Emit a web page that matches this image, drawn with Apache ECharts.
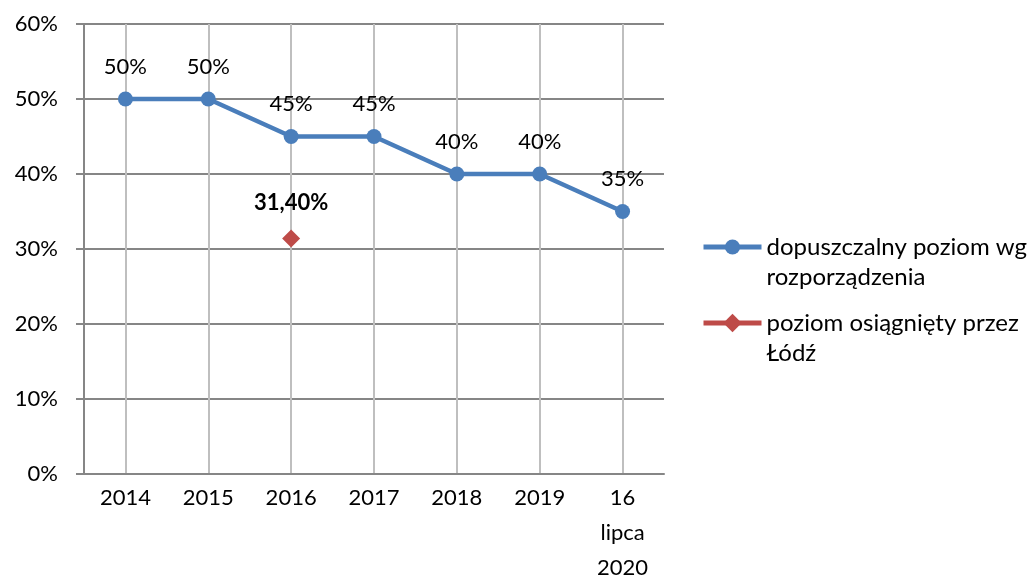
<!DOCTYPE html>
<html>
<head>
<meta charset="utf-8">
<script src="https://cdn.jsdelivr.net/npm/echarts@6/dist/echarts.min.js"></script>
<style>
html, body { margin: 0; padding: 0; background: #fff; }
#main { width: 1033px; height: 582px; }
</style>
</head>
<body>
<div id="main"></div>
<script>
var categories = ['2014', '2015', '2016', '2017', '2018', '2019', '16\nlipca\n2020'];
var dopuszczalny = [50, 50, 45, 45, 40, 40, 35];
var lodz = [null, null, 31.4, null, null, null, null];
var lodzLabels = ['', '', '31,40%', '', '', '', ''];

var nameA = 'dopuszczalny poziom wg\nrozporządzenia';
var nameB = 'poziom osiągnięty przez\nŁódź';
var font = 'Lato';

var myChart = echarts.init(document.getElementById('main'));

// pusta linia nad tekstem, zeby ikonka legendy stala na wysokosci pierwszej linii
function legendText(name) {
    var parts = name.split('\n');
    return '{s| }\n{a|' + parts[0] + '}\n{a|' + parts[1] + '}';
}

function makeLegend(name, top, h) {
    return {
        orient: 'vertical',
        left: 701,
        top: top,
        padding: 0,
        itemWidth: 58,
        itemHeight: h,
        itemGap: 0,
        lineStyle: { width: 5 },
        formatter: legendText,
        textStyle: {
            fontFamily: font,
            fontSize: 24,
            color: '#000',
            rich: {
                s: { lineHeight: 30, height: 30, fontSize: 24 },
                a: { lineHeight: 30, fontFamily: font, fontSize: 24, color: '#000' }
            }
        },
        data: [name]
    };
}

var option = {
    backgroundColor: '#ffffff',
    animation: false,
    grid: {
        left: 84,
        right: 369,
        top: 24,
        bottom: 108,
        outerBoundsMode: 'none'
    },
    legend: [makeLegend(nameA, 202, 19), makeLegend(nameB, 278, 23)],
    xAxis: {
        type: 'category',
        data: categories,
        axisLine: { show: true, lineStyle: { color: '#868686', width: 2 } },
        axisTick: { show: false },
        axisLabel: {
            fontFamily: font,
            fontSize: 22,
            color: '#000',
            lineHeight: 35,
            margin: 6
        },
        splitLine: {
            show: true,
            alignWithLabel: true,
            lineStyle: { color: '#bfbfbf', width: 2 }
        }
    },
    yAxis: {
        type: 'value',
        min: 0,
        max: 60,
        interval: 10,
        axisLine: { show: true, lineStyle: { color: '#868686', width: 2 } },
        axisTick: { show: true, length: 8, lineStyle: { color: '#868686', width: 2 } },
        axisLabel: {
            fontFamily: font,
            fontSize: 22,
            color: '#000',
            margin: 26,
            formatter: function (v) { return v + '%'; }
        },
        splitLine: { show: true, lineStyle: { color: '#868686', width: 2 } }
    },
    series: [
        {
            name: nameA,
            type: 'line',
            data: dopuszczalny,
            symbol: 'circle',
            symbolSize: 15,
            lineStyle: { color: '#4a7ebb', width: 4.5 },
            itemStyle: { color: '#4a7ebb' },
            label: {
                show: true,
                position: 'top',
                distance: 14,
                fontFamily: font,
                fontSize: 22,
                color: '#000',
                formatter: function (p) { return p.value + '%'; }
            },
            z: 3
        },
        {
            name: nameB,
            type: 'line',
            data: lodz,
            symbol: 'diamond',
            symbolSize: 18,
            lineStyle: { color: '#be4b48', width: 4.5 },
            itemStyle: { color: '#be4b48' },
            label: {
                show: true,
                position: 'top',
                distance: 16,
                fontFamily: font,
                fontSize: 22,
                fontWeight: 'bold',
                color: '#000',
                formatter: function (p) { return lodzLabels[p.dataIndex]; }
            },
            z: 4
        }
    ]
};

myChart.setOption(option);
</script>
</body>
</html>
